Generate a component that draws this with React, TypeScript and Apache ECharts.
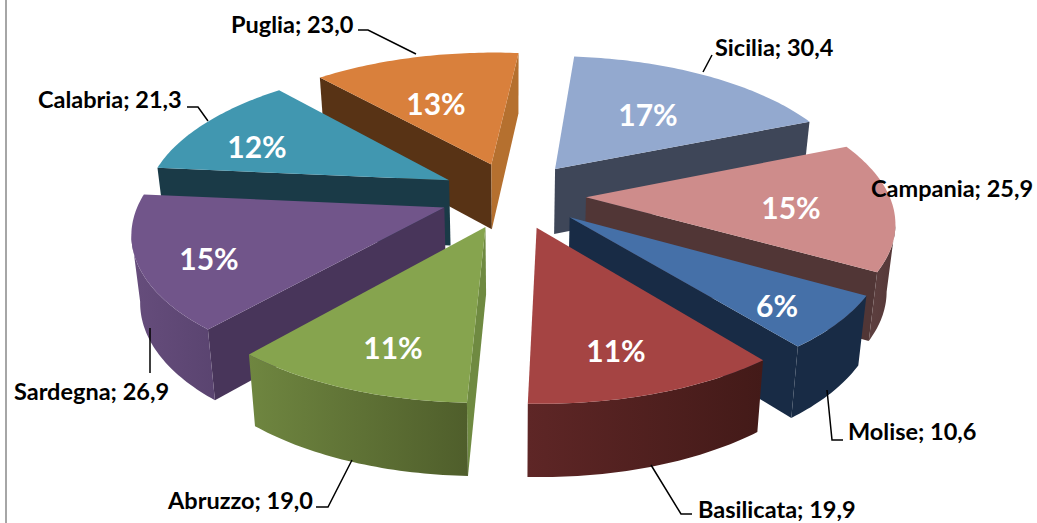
import React, { useEffect, useRef } from "react";
import * as echarts from "echarts";

const names = ["Sicilia", "Campania", "Molise", "Basilicata", "Abruzzo", "Sardegna", "Calabria", "Puglia"];
const values = [30.4, 25.9, 10.6, 19.9, 19.0, 26.9, 21.3, 23.0];
const topColors = ["#93a9cf", "#ce8c8b", "#4570a8", "#a54443", "#86a44e", "#71558a", "#4197b0", "#d9803c"];
const startWall = ["#3e4658", "#513636", "#182b45", "#451a18", "#6f8a41", "#48355a", "#1a3a47", "#583315"];
const endWall = ["#3e4658", "#513636", "#182b45", "#451a18", "#6f8a41", "#48355a", "#1a3a47", "#b5702f"];
const outerLeft = ["#3e4658", "#5d4040", "#182b45", "#5e2626", "#6f8640", "#664d7c", "#1a3a47", "#583315"];
const outerRight = ["#3e4658", "#553737", "#182b45", "#431a18", "#4f5e2b", "#5a4470", "#1a3a47", "#583315"];
const paintOrder = [7, 0, 6, 1, 5, 2, 4, 3];

const labelPos = [[715, 47], [871, 188], [848, 431], [698, 509], [168, 500], [14, 391], [38, 99], [231, 24]];
const pctPos = [[648, 114], [791, 207], [777, 305], [616, 350], [393, 347], [209, 258], [257, 146], [436, 103]];
const leaders = [
  [[712, 55], [703, 72]],
  [],
  [[827, 390], [832, 440], [843, 440]],
  [[651, 465], [681, 514], [692, 514]],
  [[352, 460], [328, 507], [316, 507]],
  [[150, 328], [150, 373]],
  [[187, 107], [198, 107], [208, 121]],
  [[358, 30], [368, 30], [416, 54]],
];

const CX = 513, CY = 195, R = 303, EXPLODE = 73, TILT = 0.4547, PERSP = 0.000508, H = 66, START = 5.5, BOTTOM_X = 0.977;
const total = values.reduce((a, b) => a + b, 0);
const FONT = "Lato, 'Open Sans', sans-serif";

function project(X: number, F: number, down: boolean) {
  const s = 1 / (1 - PERSP * F);
  return [CX + s * X * (down ? BOTTOM_X : 1), CY + F * TILT * s + (down ? H * Math.sqrt(s) : 0)];
}

function sliceElements(i: number) {
  const before = values.slice(0, i).reduce((a, b) => a + b, 0);
  const a0 = START + (before / total) * 360;
  const a1 = a0 + (values[i] / total) * 360;
  const mid = ((a0 + a1) / 2) * Math.PI / 180;
  const ex = EXPLODE * Math.sin(mid), ef = -EXPLODE * Math.cos(mid);
  const arc: number[][] = [];
  const steps = Math.ceil(a1 - a0);
  for (let j = 0; j <= steps; j++) {
    const t = (a0 + ((a1 - a0) * j) / steps) * Math.PI / 180;
    arc.push([ex + R * Math.sin(t), ef - R * Math.cos(t)]);
  }
  const top = (p: number[]) => project(p[0], p[1], false);
  const bot = (p: number[]) => project(p[0], p[1], true);
  const apex = [ex, ef];
  const children: any[] = [];
  const wall = (a: number[], b: number[], fill: string) => {
    if (top(b)[0] < top(a)[0]) {
      children.push({ type: "polygon", shape: { points: [top(a), top(b), bot(b), bot(a)] }, style: { fill } });
    }
  };
  wall(apex, arc[0], startWall[i]);
  wall(arc[arc.length - 1], apex, endWall[i]);
  const vis: number[][] = [];
  for (let j = 0; j < arc.length; j++) {
    const prev = arc[j - 1], next = arc[j + 1];
    if ((next && top(next)[0] < top(arc[j])[0]) || (prev && top(arc[j])[0] < top(prev)[0])) vis.push(arc[j]);
  }
  if (vis.length > 1) {
    children.push({
      type: "polygon",
      shape: { points: [...vis.map(top), ...vis.slice().reverse().map(bot)] },
      style: {
        fill: new echarts.graphic.LinearGradient(0, 0, 1, 0, [
          { offset: 0, color: outerLeft[i] },
          { offset: 1, color: outerRight[i] },
        ]),
      },
    });
  }
  children.push({
    type: "polygon",
    shape: { points: [top(apex), ...arc.map(top)] },
    style: { fill: topColors[i] },
  });
  return children;
}

const fmt = (v: number) => v.toFixed(1).replace(".", ",");

export default function App() {
  const ref = useRef<HTMLDivElement>(null);
  useEffect(() => {
    const chart = echarts.init(ref.current!, null, { renderer: "svg" });
    chart.setOption({
      animation: false,
      backgroundColor: "#ffffff",
      graphic: [
        { type: "line", shape: { x1: 6, y1: 0, x2: 6, y2: 523 }, style: { stroke: "#a6a6a6", lineWidth: 2 } },
      ],
      series: [
        {
          type: "custom",
          coordinateSystem: "none",
          silent: true,
          data: paintOrder.map((i) => ({ name: names[i], value: [i, values[i]] })),
          renderItem: (_p: any, api: any) => ({ type: "group", children: sliceElements(api.value(0)) }),
          z: 2,
        },
        {
          type: "custom",
          coordinateSystem: "none",
          silent: true,
          data: names.map((n, i) => ({ name: n, value: [i, values[i]] })),
          renderItem: (_p: any, api: any) => {
            const i = api.value(0);
            const kids: any[] = [
              {
                type: "text",
                x: labelPos[i][0],
                y: labelPos[i][1],
                style: {
                  text: `${names[i]}; ${fmt(values[i])}`,
                  fill: "#000000",
                  font: `bold 23.5px ${FONT}`,
                  textAlign: "left",
                  textVerticalAlign: "middle",
                },
              },
              {
                type: "text",
                x: pctPos[i][0],
                y: pctPos[i][1],
                style: {
                  text: `${Math.round((values[i] / total) * 100)}%`,
                  fill: "#ffffff",
                  font: `bold 30px ${FONT}`,
                  textAlign: "center",
                  textVerticalAlign: "middle",
                },
              },
            ];
            if (leaders[i].length) {
              kids.push({
                type: "polyline",
                shape: { points: leaders[i] },
                style: { stroke: "#000000", lineWidth: 1.5, fill: "none" },
              });
            }
            return { type: "group", children: kids };
          },
          z: 3,
        },
      ],
    });
    return () => chart.dispose();
  }, []);
  return <div ref={ref} style={{ position: "fixed", left: 0, top: 0, width: 1037, height: 523 }} />;
}
